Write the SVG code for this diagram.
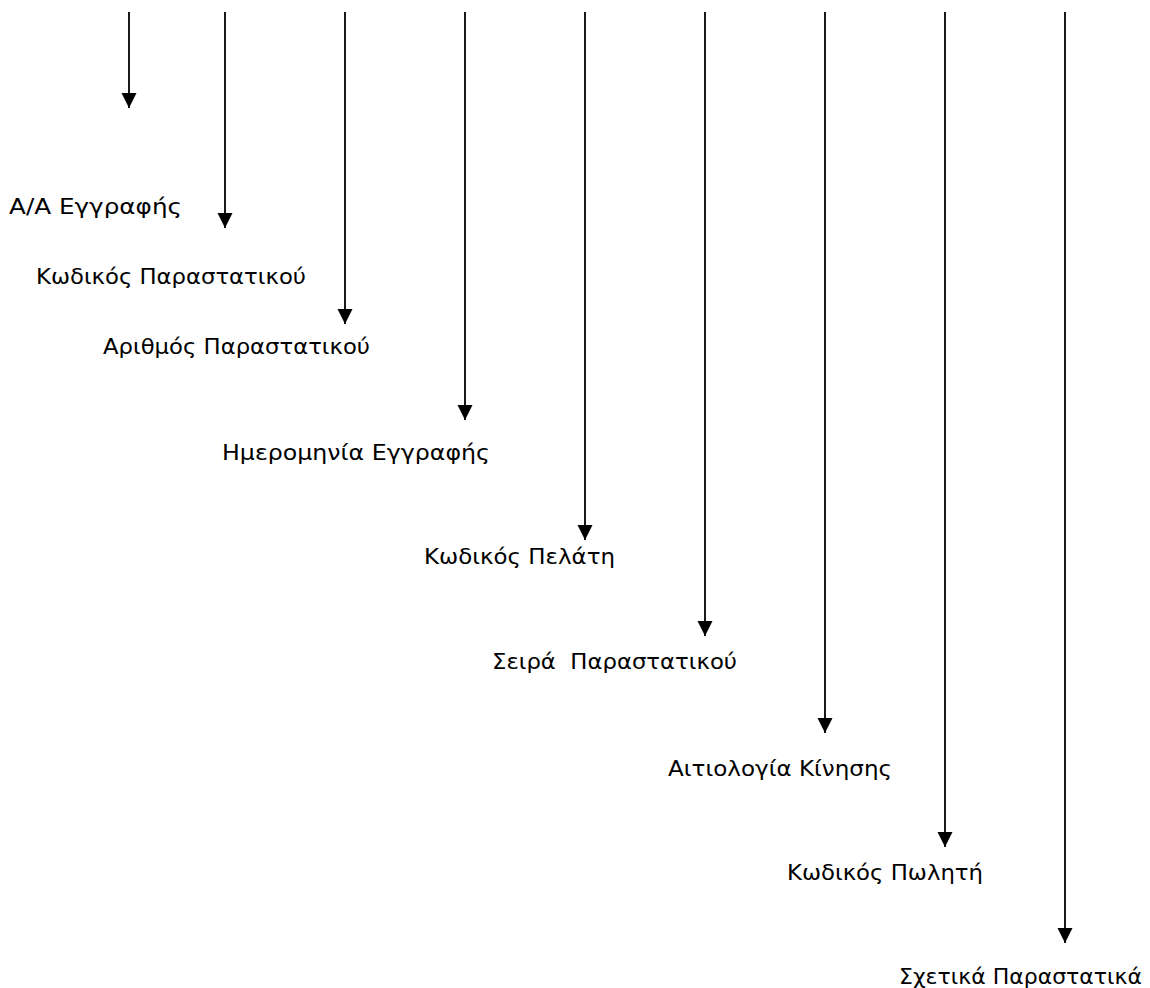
<svg xmlns="http://www.w3.org/2000/svg" width="1150" height="988" viewBox="0 0 1150 988">
<style>
.lbl{font-family:"DejaVu Sans","Liberation Sans",sans-serif;font-size:22px;fill:#000}
.con{stroke:#000;stroke-width:1.8;fill:none}
</style>
<defs>
<marker id="ah" markerUnits="userSpaceOnUse" markerWidth="16" markerHeight="16" viewBox="0 0 16 16" refX="15" refY="8" orient="auto">
<path d="M0,0.5 L15,8 L0,15.5 Z" fill="#000"/>
</marker>
</defs>
<rect width="1150" height="988" fill="#fff"/>
<g id="connectors">
<line class="con" x1="129" y1="12" x2="129" y2="108" marker-end="url(#ah)"/>
<line class="con" x1="225" y1="12" x2="225" y2="228" marker-end="url(#ah)"/>
<line class="con" x1="345" y1="12" x2="345" y2="324" marker-end="url(#ah)"/>
<line class="con" x1="465" y1="12" x2="465" y2="420" marker-end="url(#ah)"/>
<line class="con" x1="585" y1="12" x2="585" y2="540" marker-end="url(#ah)"/>
<line class="con" x1="705" y1="12" x2="705" y2="636" marker-end="url(#ah)"/>
<line class="con" x1="825" y1="12" x2="825" y2="733" marker-end="url(#ah)"/>
<line class="con" x1="945" y1="12" x2="945" y2="847" marker-end="url(#ah)"/>
<line class="con" x1="1065" y1="12" x2="1065" y2="943" marker-end="url(#ah)"/>
</g>
<g id="n1"><text class="lbl" x="9" y="214" textLength="173" lengthAdjust="spacingAndGlyphs">A/A Εγγραφής</text></g>
<g id="n2"><text class="lbl" x="36" y="284" textLength="270" lengthAdjust="spacingAndGlyphs">Κωδικός Παραστατικού</text></g>
<g id="n3"><text class="lbl" x="103" y="354" textLength="267" lengthAdjust="spacingAndGlyphs">Αριθμός Παραστατικού</text></g>
<g id="n4"><text class="lbl" x="222" y="460" textLength="268" lengthAdjust="spacingAndGlyphs">Ημερομηνία Εγγραφής</text></g>
<g id="n5"><text class="lbl" x="424" y="564" textLength="191" lengthAdjust="spacingAndGlyphs">Κωδικός Πελάτη</text></g>
<g id="n6"><text class="lbl" x="492" y="669" textLength="245" lengthAdjust="spacingAndGlyphs" xml:space="preserve">Σειρά  Παραστατικού</text></g>
<g id="n7"><text class="lbl" x="668" y="776" textLength="224" lengthAdjust="spacingAndGlyphs">Αιτιολογία Κίνησης</text></g>
<g id="n8"><text class="lbl" x="787" y="880" textLength="196" lengthAdjust="spacingAndGlyphs">Κωδικός Πωλητή</text></g>
<g id="n9"><text class="lbl" x="899" y="984" textLength="243" lengthAdjust="spacingAndGlyphs">Σχετικά Παραστατικά</text></g>
</svg>
